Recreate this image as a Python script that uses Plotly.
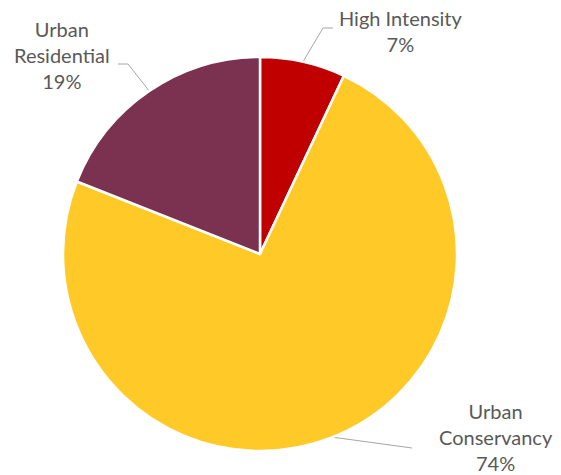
import math
import plotly.graph_objects as go

labels = ["High Intensity", "Urban Conservancy", "Urban Residential"]
label_text = ["High Intensity<br>7%", "Urban<br>Conservancy<br>74%", "Urban<br>Residential<br>19%"]
values = [7, 74, 19]
colors = ["#C00000", "#FFCA28", "#7B3150"]

W, H = 561, 475
OFF = 8  # page body margin compensation
CX, CY, R = 260 - OFF, 254 - OFF, 197

# label placement (pixels) and elbow points of leader lines
label_pos = [(401, 31), (496, 437), (62, 55)]
leader_mid = [[(323, 28), (333, 28)], [(412, 448)], [(128, 64), (118, 64)]]
label_pos = [(x - OFF, y - OFF) for x, y in label_pos]
leader_mid = [[(x - OFF, y - OFF) for x, y in seg] for seg in leader_mid]

fig = go.Figure()
fig.add_trace(go.Pie(
    labels=labels, values=values, sort=False, direction="clockwise", rotation=0,
    marker=dict(colors=colors, line=dict(color="white", width=2.5)),
    textinfo="none", hoverinfo="label+percent", showlegend=False,
    domain=dict(x=[(CX - R) / W, (CX + R) / W], y=[1 - (CY + R) / H, 1 - (CY - R) / H]),
))

total = sum(values)
cum = 0
for i, v in enumerate(values):
    mid = (cum + v / 2) / total * 2 * math.pi
    cum += v
    ex, ey = CX + R * math.sin(mid), CY - R * math.cos(mid)
    pts = [(ex, ey)] + leader_mid[i]
    fig.add_trace(go.Scatter(
        x=[p[0] for p in pts], y=[p[1] for p in pts], mode="lines",
        line=dict(color="#A6A6A6", width=1), hoverinfo="skip", showlegend=False,
    ))
    fig.add_annotation(x=label_pos[i][0], y=label_pos[i][1], xref="x", yref="y",
                       text=label_text[i], showarrow=False, borderpad=0,
                       font=dict(family="Lato", size=20, color="#595959"),
                       align="center", xanchor="center", yanchor="middle")

fig.update_layout(
    width=W, height=H, margin=dict(l=0, r=0, t=0, b=0),
    paper_bgcolor="white", plot_bgcolor="rgba(0,0,0,0)",
    xaxis=dict(range=[0, W], visible=False, fixedrange=True),
    yaxis=dict(range=[H, 0], visible=False, fixedrange=True),
)
fig.write_html("out.html")
